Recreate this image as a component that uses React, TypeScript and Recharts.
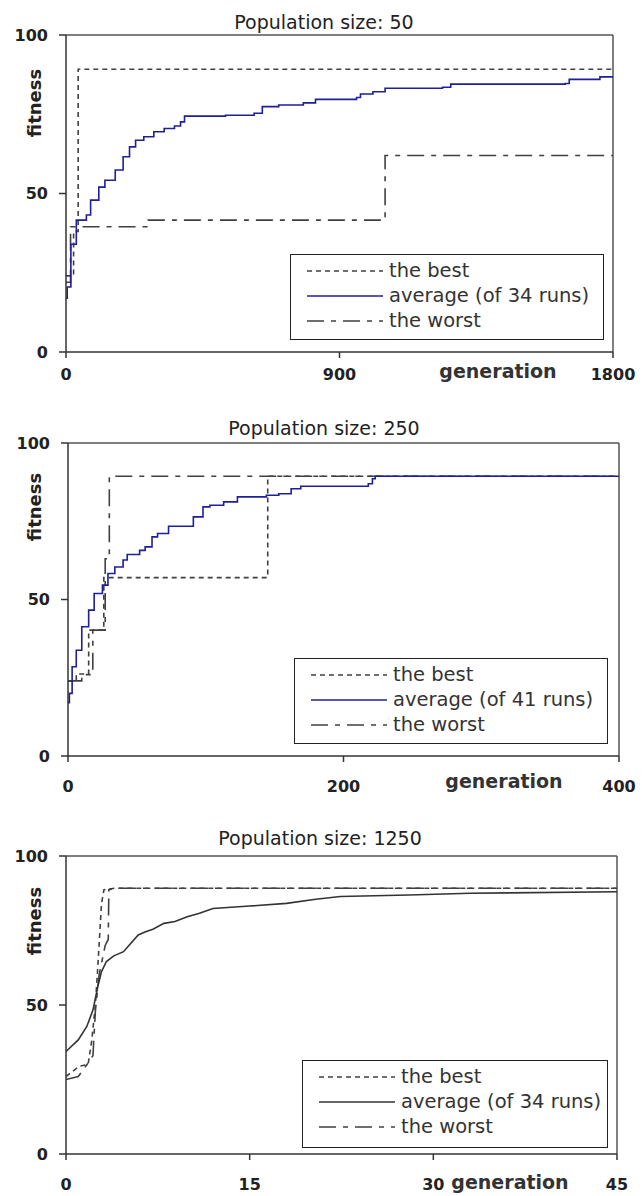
import { LineChart, Line, XAxis, YAxis, ReferenceLine } from 'recharts';

// [generation, fitness] change points
const pop50Best = [[0, 24], [25, 38], [40, 89.2], [1800, 89.2]];
const pop50Worst = [[0, 22], [15, 39.5], [270, 41.6], [1050, 62], [1800, 62]];
const pop50Avg = [
  [0, 17], [4, 20.5], [16, 34], [34, 41.6], [67, 43.2], [81, 47.9], [108, 52], [128, 54.2],
  [162, 57.4], [188, 61.6], [209, 64.7], [229, 66.8], [256, 67.9], [289, 69.5], [323, 70.5],
  [357, 71.3], [377, 72.6], [390, 74.4], [525, 74.7], [619, 75.3], [646, 77.4], [700, 77.9],
  [781, 78.6], [821, 79.7], [956, 80.3], [969, 81.4], [1010, 82.1], [1050, 83.2], [1239, 83.5],
  [1266, 84.5], [1643, 84.7], [1656, 86], [1757, 86.8], [1800, 87],
];

const pop250Best = [[0, 24], [6, 26.2], [15, 40.2], [26, 57], [145, 89.4], [400, 89.4]];
const pop250Worst = [[0, 24], [10, 26], [18, 40.2], [27, 63], [30, 89.4], [400, 89.4]];
const pop250Avg = [
  [0, 17], [1, 20], [3, 28.5], [6, 33.8], [10, 41.3], [15, 46.6], [19, 51.9], [25, 54.6],
  [29, 58.3], [34, 60.4], [40, 62.6], [43, 64.4], [52, 65.7], [56, 66.8], [61, 70], [65, 71.1],
  [73, 73.4], [86, 73.4], [91, 76.4], [98, 79.6], [103, 80.1], [113, 81.2], [123, 82.8],
  [144, 83.3], [153, 83.8], [162, 85.4], [169, 86.2], [216, 86.2], [218, 87], [221, 88.6],
  [223, 89.4], [400, 89.4],
];

const pop1250Best = [[0, 26], [1.1, 29.5], [1.8, 30], [2.1, 38], [2.4, 50], [2.6, 63], [2.9, 84], [3.1, 88.7], [4, 89.2], [45, 89.2]];
const pop1250Worst = [[0, 25], [1, 26], [1.8, 30.5], [2.2, 33], [2.4, 48], [2.7, 60], [3.2, 70], [3.45, 72], [3.5, 88.7], [4, 89.2], [45, 89.2]];
const pop1250Avg = [
  [0, 34.4], [1, 38.3], [1.7, 42.8], [2.2, 48.3], [2.6, 56.2], [2.9, 61.2], [3.3, 64.6],
  [3.9, 66.5], [4.7, 67.9], [5.1, 69.8], [5.9, 73.5], [6.5, 74.6], [7.1, 75.4], [8, 77.4],
  [8.9, 78], [9.9, 79.6], [10.9, 80.8], [12, 82.4], [15, 83.2], [18, 84.1], [20.4, 85.5],
  [22.4, 86.4], [28, 86.9], [33, 87.5], [45, 88],
];

const yTicks = [0, 50, 100];
const font = '"DejaVu Sans", sans-serif';
const BEST_DASH = '5 4';
const WORST_DASH = '17 7 5 7';

const toRows = (pairs: number[][]) => pairs.map(([g, v]) => ({ g, v }));

interface PanelProps {
  top: number;
  height: number;
  marginTop: number;
  marginRight: number;
  axisWidth: number;
  xTickMargin: number;
  maxGen: number;
  xTicks: number[];
  best: number[][];
  worst: number[][];
  avg: number[][];
  avgColor: string;
  stepped: boolean;
  title: string;
  titleY: number;
  titleX: number;
  fitnessY: number;
  genX: number;
  genY: number;
  legend: { left: number; top: number; width: number; height: number; avgLabel: string };
}

function LegendSample({ dash, color }: { dash?: string; color: string }) {
  return (
    <svg width={78} height={10} style={{ display: 'block' }}>
      <line x1={0} y1={5} x2={76} y2={5} stroke={color} strokeWidth={1.6} strokeDasharray={dash} />
    </svg>
  );
}

function Panel(p: PanelProps) {
  const lineType = p.stepped ? 'stepAfter' : 'linear';
  const rows = [
    { label: 'the best', dash: BEST_DASH, color: '#404040' },
    { label: p.legend.avgLabel, dash: undefined, color: p.avgColor },
    { label: 'the worst', dash: WORST_DASH, color: '#404040' },
  ];
  return (
    <>
      <div style={{ position: 'absolute', top: p.top, left: 0 }}>
        <LineChart width={642} height={p.height} margin={{ top: p.marginTop, right: p.marginRight, left: 0, bottom: 0 }}>
          <XAxis
            type="number"
            dataKey="g"
            domain={[0, p.maxGen]}
            ticks={p.xTicks}
            allowDataOverflow
            height={40}
            tickSize={6}
            tickMargin={p.xTickMargin}
            stroke="#333"
            strokeWidth={1.5}
            tick={{ fill: '#222', fontSize: 16, fontWeight: 700, fontFamily: font }}
          />
          <YAxis
            type="number"
            domain={[0, 100]}
            ticks={yTicks}
            width={p.axisWidth}
            tickSize={7}
            tickMargin={11}
            stroke="#333"
            strokeWidth={1.5}
            tick={{ fill: '#222', fontSize: 16, fontWeight: 700, fontFamily: font }}
          />
          <ReferenceLine y={100} stroke="#555" strokeWidth={1.5} />
          <ReferenceLine x={p.maxGen} stroke="#555" strokeWidth={1.5} />
          <Line data={toRows(p.best)} dataKey="v" type={lineType} stroke="#404040" strokeWidth={1.6}
            strokeDasharray={BEST_DASH} dot={false} activeDot={false} isAnimationActive={false} />
          <Line data={toRows(p.worst)} dataKey="v" type={lineType} stroke="#404040" strokeWidth={1.6}
            strokeDasharray={WORST_DASH} dot={false} activeDot={false} isAnimationActive={false} />
          <Line data={toRows(p.avg)} dataKey="v" type={lineType} stroke={p.avgColor} strokeWidth={1.6}
            dot={false} activeDot={false} isAnimationActive={false} />
        </LineChart>
      </div>
      <div style={{ position: 'absolute', left: p.titleX - 150, width: 300, top: p.titleY - 12, textAlign: 'center', fontSize: 19, color: '#222', lineHeight: '24px' }}>
        {p.title}
      </div>
      <div style={{ position: 'absolute', left: 35 - 50, top: p.fitnessY - 12, width: 100, height: 24, textAlign: 'center', lineHeight: '24px', fontSize: 18, fontWeight: 700, color: '#222', transform: 'rotate(-90deg)' }}>
        fitness
      </div>
      <div style={{ position: 'absolute', left: p.genX - 70, width: 140, top: p.genY - 12, textAlign: 'center', lineHeight: '24px', fontSize: 19, fontWeight: 700, color: '#333' }}>
        generation
      </div>
      <div style={{ position: 'absolute', left: p.legend.left, top: p.legend.top, width: p.legend.width, height: p.legend.height, boxSizing: 'border-box', border: '1.5px solid #222', background: '#fff', paddingTop: 3 }}>
        {rows.map((r) => (
          <div key={r.label} style={{ display: 'flex', alignItems: 'center', height: 25, paddingLeft: 16 }}>
            <LegendSample dash={r.dash} color={r.color} />
            <span style={{ fontSize: 19.5, color: '#333', marginLeft: 4, lineHeight: '25px' }}>{r.label}</span>
          </div>
        ))}
      </div>
    </>
  );
}

export default function App() {
  return (
    <div style={{ position: 'absolute', left: 0, top: 0, width: 642, height: 1196, overflow: 'hidden', background: '#fff', fontFamily: font }}>
      <Panel
        top={0} height={392} marginTop={35} marginRight={29} axisWidth={66} xTickMargin={11}
        maxGen={1800} xTicks={[0, 900, 1800]}
        best={pop50Best} worst={pop50Worst} avg={pop50Avg} avgColor="#1f1f99" stepped
        title="Population size: 50" titleX={324} titleY={22} fitnessY={103} genX={498} genY={371}
        legend={{ left: 290, top: 254, width: 314, height: 86, avgLabel: 'average (of 34 runs)' }}
      />
      <Panel
        top={400} height={396} marginTop={43} marginRight={23} axisWidth={68} xTickMargin={19}
        maxGen={400} xTicks={[0, 200, 400]}
        best={pop250Best} worst={pop250Worst} avg={pop250Avg} avgColor="#1f1f99" stepped
        title="Population size: 250" titleX={324} titleY={428} fitnessY={507} genX={504} genY={781}
        legend={{ left: 294, top: 658, width: 314, height: 86, avgLabel: 'average (of 41 runs)' }}
      />
      <Panel
        top={814} height={380} marginTop={42} marginRight={25} axisWidth={66} xTickMargin={19}
        maxGen={45} xTicks={[0, 15, 30, 45]}
        best={pop1250Best} worst={pop1250Worst} avg={pop1250Avg} avgColor="#333" stepped={false}
        title="Population size: 1250" titleX={320} titleY={838} fitnessY={921} genX={510} genY={1182}
        legend={{ left: 302, top: 1060, width: 306, height: 88, avgLabel: 'average (of 34 runs)' }}
      />
    </div>
  );
}
